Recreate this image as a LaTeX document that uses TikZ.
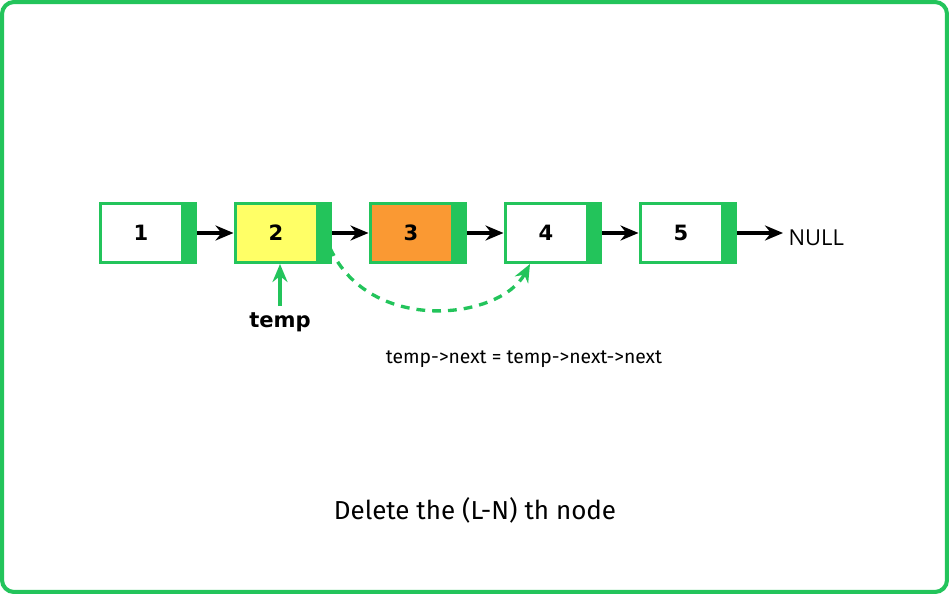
\documentclass[tikz,border=0pt]{standalone}
\usepackage{fontspec}
\usetikzlibrary{positioning,arrows.meta}
\newfontfamily\boxfont{DejaVu Sans}
\newfontfamily\lblfont{Fira Sans}
\newfontfamily\nilfont{Open Sans}
\definecolor{gfg}{RGB}{35,196,91}
\definecolor{cellyellow}{RGB}{255,255,102}
\definecolor{cellorange}{RGB}{250,153,51}
\tikzset{
  cell/.style={rectangle, draw=gfg, line width=1.7pt, fill=white, minimum width=1.64cm, minimum height=1.18cm, inner sep=0pt, font=\boxfont\bfseries\fontsize{12}{14}\selectfont},
  ptr/.style={rectangle, draw=gfg, fill=gfg, line width=1.7pt, minimum width=0.22cm, minimum height=1.18cm, inner sep=0pt},
  link/.style={line width=2pt, -{Stealth[length=0.36cm,width=0.3cm]}}
}
\begin{document}
\begin{tikzpicture}[x=0.02cm,y=-0.02cm]
        \useasboundingbox (0,0) rectangle (949,594);
        \draw[gfg, line width=2.3pt, rounded corners=0.24cm] (2,2) rectangle (947,592);

        \node[cell] (c1) at (141,233) {1};
        \node[cell, fill=cellyellow] (c2) at (276,233) {2};
        \node[cell, fill=cellorange] (c3) at (411,233) {3};
        \node[cell] (c4) at (546,233) {4};
        \node[cell] (c5) at (681,233) {5};
        \foreach \i in {1,...,5}
            \node[ptr, right=0pt of c\i] (p\i) {};

        \foreach \i/\j in {1/2,2/3,3/4,4/5}
            \draw[link] (p\i.east) -- (c\j.west);
        \node[right, inner sep=3pt, font=\nilfont\fontsize{12.5}{14}\selectfont] (null) at (783,238) {NULL};
        \draw[link] (p5.east) -- (p5.east -| null.west);

        \node[font=\boxfont\bfseries\fontsize{12}{14}\selectfont] (temp) at (280,322) {temp};
        \draw[gfg, link] (temp.north) -- (temp.north |- c2.south);

        \coordinate (from) at (330,248);
        \coordinate (to) at (530,264);
        \draw[gfg, line width=1.9pt, dash pattern=on 5pt off 4pt, -{Stealth[length=0.36cm,width=0.3cm]}] (from) .. controls (370,335) and (500,320) .. (to);

        \node[font=\lblfont\fontsize{11}{13}\selectfont] (rule) at (524,359) {temp->next = temp->next->next};
        \node[font=\lblfont\fontsize{14.8}{17}\selectfont] (title) at (475,510) {Delete the (L-N) th node};
\end{tikzpicture}
\end{document}
